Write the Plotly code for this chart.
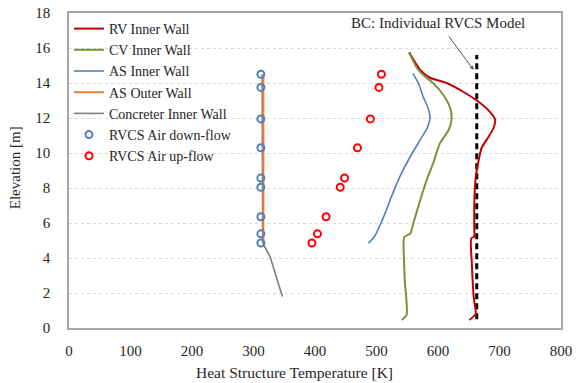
import plotly.graph_objects as go

# Wall temperature profiles: (temperature [K], elevation [m])
rv_elev = [0.46, 0.8, 1.8, 3.7, 5.12, 5.22, 5.6, 7.1, 8.5, 9.4, 10.3, 10.75, 11.4, 11.9, 12.55, 13.0, 13.5, 14.0, 14.3, 14.75, 15.75]
rv_temp = [651, 661, 658, 655, 654, 659, 659, 659, 661, 665, 671, 679, 690, 693, 679, 663, 641, 614, 587, 571, 553]

cv_elev = [0.46, 0.75, 2.7, 4.85, 5.2, 5.4, 6.0, 7.3, 8.5, 9.4, 10.55, 11.3, 11.9, 12.55, 13.3, 14.0, 14.45, 14.9, 15.75]
cv_temp = [541, 549, 546, 544, 545, 555, 560, 571, 582, 592, 603, 617, 622, 620, 609, 592, 576, 565, 553]

as_in_elev = [4.84, 5.3, 5.9, 6.55, 7.3, 8.65, 9.8, 10.75, 11.4, 12.0, 12.55, 13.2, 14.0, 14.55]
as_in_temp = [487, 498, 506, 514, 522, 538, 555, 571, 582, 587, 584, 576, 568, 559]

as_out_elev = [4.86, 14.5]
as_out_temp = [316, 316]

conc_elev = [1.8, 4.07, 4.86, 14.5]
conc_temp = [347, 327, 315, 314]

# RVCS air temperatures
air_elev = [14.5, 13.75, 11.95, 10.3, 8.57, 8.04, 6.36, 5.38, 4.86]
air_down_temp = [312, 312, 312, 312, 312, 312, 312, 312, 312]
air_up_temp = [508, 504, 490, 469, 448, 441, 418, 404, 395]

# Boundary condition of the individual RVCS model
bc_elev = [0.5, 15.6]
bc_temp = [663, 663]

serif = "Liberation Serif"
txt = "#262626"

fig = go.Figure()

fig.add_trace(go.Scatter(x=bc_temp, y=bc_elev, mode="lines", showlegend=False,
                         line=dict(color="black", width=3, dash="6px,4px")))
fig.add_trace(go.Scatter(x=rv_temp, y=rv_elev, mode="lines", name="RV Inner Wall", legendrank=1,
                         line=dict(color="#c00000", width=2, shape="spline", smoothing=0.6)))
fig.add_trace(go.Scatter(x=cv_temp, y=cv_elev, mode="lines", name="CV Inner Wall", legendrank=2,
                         line=dict(color="#77933c", width=2, shape="spline", smoothing=0.6)))
fig.add_trace(go.Scatter(x=as_in_temp, y=as_in_elev, mode="lines", name="AS Inner Wall", legendrank=3,
                         line=dict(color="#4f81bd", width=1.6, shape="spline", smoothing=0.6)))
fig.add_trace(go.Scatter(x=conc_temp, y=conc_elev, mode="lines", name="Concreter Inner Wall",
                         legendrank=5, line=dict(color="#7f7f7f", width=1.6)))
fig.add_trace(go.Scatter(x=as_out_temp, y=as_out_elev, mode="lines", name="AS Outer Wall",
                         legendrank=4, line=dict(color="#ed7d31", width=2)))
fig.add_trace(go.Scatter(x=air_down_temp, y=air_elev, mode="markers", name="RVCS Air down-flow",
                         legendrank=6,
                         marker=dict(symbol="circle-open", size=7, color="#4f81bd", line=dict(width=2))))
fig.add_trace(go.Scatter(x=air_up_temp, y=air_elev, mode="markers", name="RVCS Air up-flow",
                         legendrank=7,
                         marker=dict(symbol="circle-open", size=7, color="#ff0000", line=dict(width=2))))

# Callout pointing at the boundary-condition line
fig.add_annotation(x=658, y=14.75, ax=-26, ay=-35, axref="pixel", ayref="pixel",
                   xref="x", yref="y", showarrow=True, arrowhead=2, arrowsize=0.8,
                   arrowwidth=1, arrowcolor="#595959", text="", standoff=0)
fig.add_annotation(x=0.75, y=0.968, xref="paper", yref="paper", xanchor="center", yanchor="middle",
                   text="BC: Individual RVCS Model", showarrow=False,
                   font=dict(family=serif, size=15, color=txt))

# Axis titles
fig.add_annotation(x=0.459, y=-0.14, xref="paper", yref="paper", xanchor="center", yanchor="middle",
                   text="Heat Structure Temperature [K]", showarrow=False,
                   font=dict(family=serif, size=15.5, color=txt))
fig.add_annotation(x=-0.11, y=0.51, xref="paper", yref="paper", xanchor="center", yanchor="middle",
                   text="Elevation [m]", textangle=-90, showarrow=False,
                   font=dict(family=serif, size=15, color=txt))

fig.update_layout(
    width=576, height=383,
    margin=dict(l=69, r=15, t=13, b=55, autoexpand=False),
    paper_bgcolor="white", plot_bgcolor="white",
    font=dict(family=serif, size=15, color=txt),
    legend=dict(x=0.0, y=1.0, xanchor="left", yanchor="top", bgcolor="rgba(0,0,0,0)",
                font=dict(family=serif, size=14, color=txt), tracegroupgap=0,
                itemwidth=30),
    xaxis=dict(range=[0, 800], dtick=100, showgrid=False, zeroline=False, automargin=False,
               showline=True, linecolor="#a6a6a6", linewidth=1.5, mirror=True,
               ticks="", ticklabelstandoff=8,
               tickfont=dict(family=serif, size=15, color=txt)),
    yaxis=dict(range=[0, 18], dtick=2, showgrid=True, gridcolor="#d9d9d9", griddash="dot",
               gridwidth=1, zeroline=False, automargin=False,
               showline=True, linecolor="#a6a6a6", linewidth=1.5, mirror=True,
               ticks="", ticklabelstandoff=14,
               tickfont=dict(family=serif, size=15, color=txt)),
)

fig.write_html("out.html")
